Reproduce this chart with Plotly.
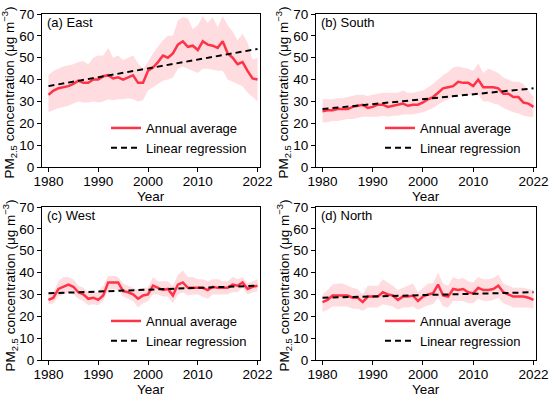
import plotly.graph_objects as go

years = list(range(1980, 2023))

regions = ["East", "South", "West", "North"]
panel_labels = ["(a) East", "(b) South", "(c) West", "(d) North"]

east_mean = [33, 35, 36, 36.5, 37, 38, 39.5, 38.5, 38.5, 40,
             40, 41.5, 42, 40.5, 41, 40, 41, 42, 38.5, 38.5,
             44, 45.5, 48, 51, 50, 52, 56, 57.5, 55, 55.5,
             53.5, 57.5, 56, 55.5, 54.5, 57.5, 52, 50, 47, 48,
             44, 40.5, 40]
east_upper = [42, 44, 45, 46, 46.5, 47, 48, 48.5, 47, 50,
              51, 51, 54.5, 50, 51, 49, 50, 51, 47.5, 45,
              48, 52, 55, 58, 60, 60, 67, 68.5, 68, 63,
              65, 69, 66, 68.5, 64, 69, 65, 62, 58, 61,
              57, 49, 50]
east_lower = [25, 26, 27, 27.5, 28, 29, 30, 29.5, 29.5, 30,
              29.5, 30, 31, 30.5, 31, 31, 31.5, 31, 30, 30.5,
              35, 36.5, 38, 39.5, 40, 41, 45, 46, 45, 44,
              43, 45, 45, 44.5, 44, 44, 40, 39, 38, 37,
              34, 32, 30]

south_mean = [25.5, 26, 26, 26.5, 26.5, 26.5, 27.5, 28, 28.5, 27,
              27.5, 28.5, 28.5, 27.5, 28, 28.5, 29, 28, 28.5, 28.5,
              29.5, 31, 32, 34, 36, 36.5, 37, 39, 38.5, 38.5,
              37, 40, 36.5, 36.5, 36.5, 36, 33.5, 33.5, 32, 32,
              29.5, 29, 27.5]
south_upper = [31, 31, 31, 31.5, 31.5, 32, 32.5, 33, 33, 32.5,
               33, 33.5, 34, 34, 34, 34, 35, 34, 34, 34.5,
               35, 36.5, 38, 40, 42, 43.5, 45.5, 46, 45.5, 45,
               44, 47.5, 43, 45, 44, 43, 41, 40, 39, 39,
               38, 35, 32]
south_lower = [20.5, 20.5, 21, 21, 21.5, 22, 22, 22.5, 23, 23,
               23, 23, 23.5, 23, 23.5, 23.5, 24, 24, 24, 24.5,
               25, 26, 27, 28.5, 30, 31, 32, 33, 33, 33,
               33, 33, 30, 30, 29, 28.5, 27, 26, 25, 24.5,
               23.5, 23, 23]

west_mean = [27.5, 28.5, 32.5, 33.5, 34.5, 33.5, 31, 30, 28, 28.5,
             27.5, 29.5, 35.5, 35.5, 35.5, 31.5, 31, 30, 28, 29.5,
             30, 34, 33, 32, 32.5, 29.5, 34.5, 35.5, 33, 33,
             33, 33, 32, 33.5, 33, 33, 33, 34.5, 34, 35.5,
             32.5, 33.5, 34]
west_upper = [30, 31, 36, 38, 38, 37, 34, 33, 31, 31,
              31, 34, 38.5, 38.5, 38, 35, 34, 33, 32, 33,
              33, 38, 36, 36, 36, 34, 39, 41, 38, 38,
              37, 37, 36, 37, 37, 36, 36, 38, 37, 38,
              35, 36, 37]
west_lower = [25.5, 26, 29, 30, 31, 30, 28, 27, 25, 25.5,
              25, 27, 32, 32.5, 32, 29, 28, 27, 24, 26,
              27, 30, 30, 29, 29, 26, 30, 31, 29.5, 30,
              30, 29, 28, 30, 30, 30, 30, 31, 31, 33,
              30, 31, 31.5]

north_mean = [26.5, 27.5, 29.5, 29.5, 29.5, 29.5, 28.5, 28.5, 26.5, 29,
              29, 29, 31, 30, 29.5, 27.5, 29, 29, 29.5, 27,
              29, 30, 30.5, 34.5, 29.5, 29, 32.5, 32, 32.5, 31,
              30.5, 33, 32, 32, 32.5, 34, 31, 30, 29, 29,
              29, 28.5, 27.5]
north_upper = [30, 32, 34.5, 35, 35, 34, 33, 32.5, 30, 34,
               34, 34, 37, 35.5, 34, 32, 33, 34, 35, 31,
               33, 35, 35, 40, 35, 34, 38, 37, 37.5, 36,
               35.5, 38, 37, 37, 37.5, 39, 35, 34, 33, 33,
               33, 32.5, 32]
north_lower = [22, 23, 24.5, 24.5, 24.5, 24.5, 23.5, 23.5, 22.5, 24,
               24, 24, 25.5, 25, 24.5, 23, 24, 24, 24.5, 23,
               24, 25, 25.5, 28.5, 24.5, 24, 27, 27, 27, 26,
               26, 28, 27, 27, 27.5, 28.5, 26, 25, 24, 24,
               24, 24, 23.5]

# Linear regression line values at 1980 and 2022
reg_start = [37, 26.5, 30.5, 28.5]
reg_end = [54, 36, 34, 31]

means = [east_mean, south_mean, west_mean, north_mean]
uppers = [east_upper, south_upper, west_upper, north_upper]
lowers = [east_lower, south_lower, west_lower, north_lower]

x_ticks = [1980, 1990, 2000, 2010, 2022]
y_ticks = [0, 10, 20, 30, 40, 50, 60, 70]

W, H = 550, 396
RED = "#ff3347"
BAND = "rgba(255, 60, 80, 0.18)"
FONT = "Liberation Sans, Arial, sans-serif"
FS = 13

# panel pixel boxes: (left, right, top, bottom)
boxes = [(42, 260, 14, 167), (316, 536, 14, 167),
         (42, 260, 207, 360), (316, 536, 207, 360)]

fig = go.Figure()
annotations = []
layout = {}

for i in range(4):
    n = "" if i == 0 else str(i + 1)
    xa, ya = "x" + n, "y" + n
    leg = "legend" + n
    l, r, t, b = boxes[i]

    fig.add_trace(go.Scatter(x=years, y=lowers[i], xaxis=xa, yaxis=ya, mode="lines",
                             line=dict(width=0, color=BAND), showlegend=False, hoverinfo="skip"))
    fig.add_trace(go.Scatter(x=years, y=uppers[i], xaxis=xa, yaxis=ya, mode="lines",
                             line=dict(width=0, color=BAND), fill="tonexty", fillcolor=BAND,
                             showlegend=False, hoverinfo="skip"))
    fig.add_trace(go.Scatter(x=years, y=means[i], xaxis=xa, yaxis=ya, mode="lines",
                             line=dict(width=2.5, color=RED), name="Annual average",
                             legend=leg, showlegend=True))
    fig.add_trace(go.Scatter(x=[years[0], years[-1]], y=[reg_start[i], reg_end[i]],
                             xaxis=xa, yaxis=ya, mode="lines",
                             line=dict(width=2, color="black", dash="6px,4px"),
                             name="Linear regression", legend=leg, showlegend=True))

    layout["xaxis" + n] = dict(
        domain=[l / W, r / W], anchor=ya, range=[1978.7, 2022.5], automargin=False,
        tickvals=x_ticks, ticks="outside", ticklen=4, tickwidth=1, tickcolor="black",
        ticklabelstandoff=-2,
        showline=True, linecolor="black", linewidth=1, mirror=True, showgrid=False,
        zeroline=False, tickfont=dict(size=FS + 0.5, color="black", family=FONT))
    layout["yaxis" + n] = dict(
        domain=[1 - b / H, 1 - t / H], anchor=xa, range=[0, 70], automargin=False,
        tickvals=y_ticks, ticks="outside", ticklen=4, tickwidth=1, tickcolor="black",
        showline=True, linecolor="black", linewidth=1, mirror=True, showgrid=False,
        zeroline=False, tickfont=dict(size=FS + 0.5, color="black", family=FONT))
    layout[leg] = dict(
        x=(l + 64) / W, y=1 - (t + 99) / H, xanchor="left", yanchor="top",
        bgcolor="rgba(0,0,0,0)", borderwidth=0, traceorder="normal",
        font=dict(size=FS, color="black", family=FONT), tracegroupgap=0)

    annotations.append(dict(text=panel_labels[i], x=(l + 3) / W, y=1 - (t + 9) / H,
                            xref="paper", yref="paper", xanchor="left", yanchor="middle",
                            showarrow=False, font=dict(size=FS, color="black", family=FONT)))
    annotations.append(dict(text="Year", x=(l + r) / 2 / W, y=1 - (b + 29) / H,
                            xref="paper", yref="paper", xanchor="center", yanchor="middle",
                            showarrow=False, font=dict(size=FS + 0.5, color="black", family=FONT)))
    annotations.append(dict(text="PM<sub>2.5</sub> concentration (μg m<sup>−3</sup>)",
                            x=(l - 32) / W, y=1 - ((t + b) / 2 + 2) / H,
                            xref="paper", yref="paper", xanchor="center", yanchor="middle",
                            textangle=-90, showarrow=False,
                            font=dict(size=FS + 0.5, color="black", family=FONT)))

fig.update_layout(**layout)
fig.update_layout(width=W, height=H, margin=dict(l=0, r=0, t=0, b=0, autoexpand=False),
                  paper_bgcolor="white", plot_bgcolor="white",
                  annotations=annotations, font=dict(family=FONT, color="black"))

fig.write_html("out.html", config={"displayModeBar": False},
               post_script="document.body.style.margin='0';document.body.style.overflow='hidden';")
